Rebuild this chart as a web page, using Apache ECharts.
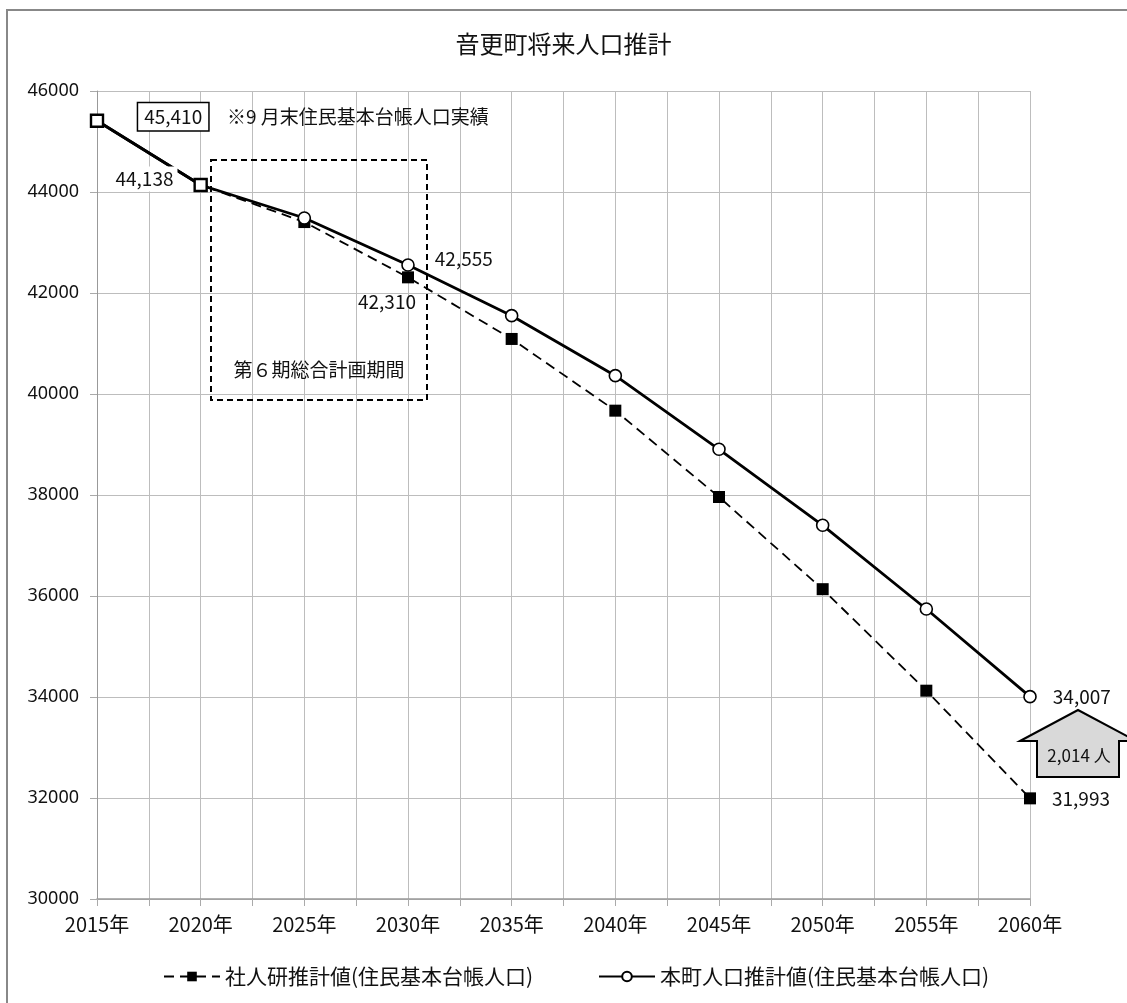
<!DOCTYPE html>
<html>
<head>
<meta charset="utf-8">
<script src="https://cdn.jsdelivr.net/npm/echarts@6/dist/echarts.min.js"></script>
<style>
html,body{margin:0;padding:0;background:#fff;}
#c{width:1127px;height:1003px;}
</style>
</head>
<body>
<div id="c"></div>
<script>
// ---- data ----
const titleText = '音更町将来人口推計';
const years = [2015, 2020, 2025, 2030, 2035, 2040, 2045, 2050, 2055, 2060];
const actualYears = [2015, 2020];
const actualValues = [45410, 44138];
const ipssName = '社人研推計値(住民基本台帳人口)';
const townName = '本町人口推計値(住民基本台帳人口)';
const ipssValues = [45410, 44138, 43405, 42310, 41090, 39670, 37960, 36135, 34125, 31993];
const townValues = [45410, 44138, 43485, 42555, 41551, 40363, 38905, 37400, 35743, 34007];
const yMin = 30000, yMax = 46000, yStep = 2000;
const xMin = 2015, xMax = 2060, xStep = 2.5;
const noteText = '※9 月末住民基本台帳人口実績';
const periodText = '第６期総合計画期間';
const diffText = '2,014 人';

const JP = '"Noto Sans CJK JP","Noto Sans",sans-serif';
const fmt = v => v.toLocaleString('en-US');

// label specs (style/position only, keyed by year)
const actualLabelSpec = {
  2015: {show: true, position: 'right', distance: 34, offset: [0, -4], borderColor: '#000', borderWidth: 1.5, padding: [4, 6], backgroundColor: '#fff'},
  2020: {show: true, position: 'left', distance: 16, offset: [0, -6], backgroundColor: '#fff', padding: [3, 4]}
};
const ipssLabelSpec = {
  2030: {show: true, position: 'bottom', distance: 9, offset: [-21, 0]},
  2060: {show: true, position: 'right', distance: 16}
};
const townLabelSpec = {
  2030: {show: true, position: 'right', distance: 20, offset: [0, -6]},
  2060: {show: true, position: 'right', distance: 16}
};

function build(xs, ys, spec) {
  return xs.map((x, i) => {
    const d = {value: [x, ys[i]]};
    if (spec[x]) d.label = Object.assign({formatter: fmt(ys[i])}, spec[x]);
    return d;
  });
}

const chart = echarts.init(document.getElementById('c'));
const labelBase = {show: false, color: '#111', fontSize: 19, fontFamily: JP};

chart.setOption({
  animation: false,
  backgroundColor: '#fff',
  title: {
    text: titleText, left: 'center', top: 27,
    textStyle: {fontFamily: JP, fontSize: 24, fontWeight: 'normal', color: '#111'}
  },
  grid: {left: 97, right: 97, top: 91, bottom: 104},
  legend: [
    {data: [ipssName], left: 158, top: 961, itemWidth: 56, itemHeight: 12, itemGap: 4,
     textStyle: {fontFamily: JP, fontSize: 21, color: '#111'}},
    {data: [townName], left: 593, top: 961, itemWidth: 56, itemHeight: 12,
     textStyle: {fontFamily: JP, fontSize: 21, color: '#111'}}
  ],
  xAxis: {
    type: 'value', min: xMin, max: xMax, interval: xStep,
    axisLine: {show: true, onZero: false, lineStyle: {color: '#999', width: 1.5}},
    axisTick: {show: true, length: 7, lineStyle: {color: '#aaa'}},
    axisLabel: {
      fontFamily: JP, fontSize: 20, color: '#111', margin: 15,
      formatter: v => (v % 5 === 0 ? v + '年' : '')
    },
    splitLine: {show: true, lineStyle: {color: '#bdbdbd', width: 1}}
  },
  yAxis: {
    type: 'value', min: yMin, max: yMax, interval: yStep,
    axisLine: {show: true, lineStyle: {color: '#999', width: 1}},
    axisTick: {show: true, length: 7, lineStyle: {color: '#aaa'}},
    axisLabel: {fontFamily: '"Noto Sans",sans-serif', fontSize: 18, color: '#111', margin: 18,
      formatter: v => String(v)},
    splitLine: {show: true, lineStyle: {color: '#bdbdbd', width: 1}}
  },
  series: [
    {
      name: ipssName, type: 'line', z: 3,
      data: build(years, ipssValues, ipssLabelSpec),
      symbol: 'rect', symbolSize: 12,
      itemStyle: {color: '#000'},
      lineStyle: {color: '#000', width: 1.8, type: [10, 6]},
      label: labelBase
    },
    {
      name: townName, type: 'line', z: 4,
      data: build(years, townValues, townLabelSpec),
      symbol: 'circle', symbolSize: 12,
      itemStyle: {color: '#fff', borderColor: '#000', borderWidth: 1.6},
      lineStyle: {color: '#000', width: 2.8},
      label: labelBase
    },
    {
      name: '実績', type: 'line', z: 5,
      data: build(actualYears, actualValues, actualLabelSpec),
      symbol: 'rect', symbolSize: 12,
      itemStyle: {color: '#fff', borderColor: '#000', borderWidth: 2.4},
      lineStyle: {color: '#000', width: 2.8},
      label: labelBase
    }
  ],
  graphic: [
    {type: 'rect', z: 100, silent: true,
     shape: {x: 7, y: 10, width: 1140, height: 1010},
     style: {fill: null, stroke: '#888', lineWidth: 2}},
    {type: 'text', z: 100, x: 227, y: 117,
     style: {text: noteText, font: '19px ' + JP, fill: '#111', textVerticalAlign: 'middle', verticalAlign: 'middle'}},
    {type: 'rect', z: 100,
     shape: {x: 211, y: 160, width: 216, height: 240},
     style: {fill: null, stroke: '#000', lineWidth: 2, lineDash: [6, 4]}},
    {type: 'text', z: 100, x: 319, y: 370,
     style: {text: periodText, font: '19px ' + JP, fill: '#111', align: 'center', textAlign: 'center', verticalAlign: 'middle', textVerticalAlign: 'middle'}},
    {type: 'polygon', z: 100,
     shape: {points: [[1020, 741], [1078, 710], [1136, 741], [1119, 741], [1119, 777], [1037, 777], [1037, 741]]},
     style: {fill: '#d9d9d9', stroke: '#000', lineWidth: 2}},
    {type: 'text', z: 101, x: 1079, y: 756,
     style: {text: diffText, font: '17px ' + JP, fill: '#111', align: 'center', textAlign: 'center', verticalAlign: 'middle', textVerticalAlign: 'middle'}}
  ]
});
</script>
</body>
</html>
